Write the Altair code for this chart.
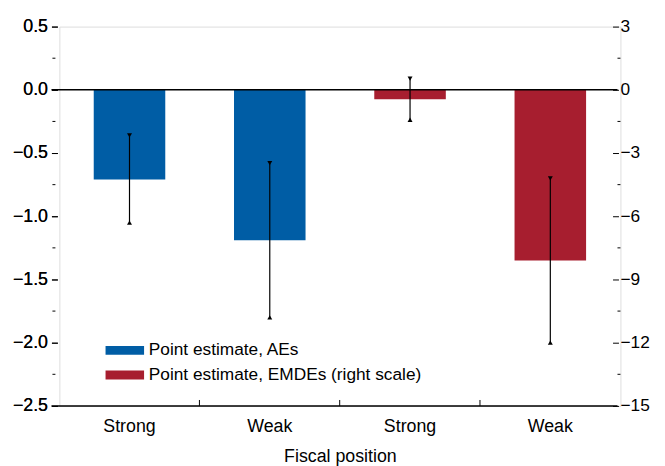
import altair as alt
import pandas as pd

# ---- data ----
groups = ["AEs", "AEs", "EMDEs", "EMDEs"]
positions = ["Strong", "Weak", "Strong", "Weak"]
estimates = [-0.71, -1.19, -0.45, -8.1]
lower = [-1.05, -1.80, -1.42, -12.0]
upper = [-0.36, -0.58, 0.53, -4.2]
series_names = ["Point estimate, AEs", "Point estimate, EMDEs (right scale)"]

left_ticks = [0.5, 0.0, -0.5, -1.0, -1.5, -2.0, -2.5]
left_minor = [0.25, -0.25, -0.75, -1.25, -1.75, -2.25]
right_ticks = [3, 0, -3, -6, -9, -12, -15]
right_minor = [1.5, -1.5, -4.5, -7.5, -10.5, -13.5]

FONT = "Liberation Sans"
FS = 18
W, H = 568, 384
BLUE = "#005DA5"
RED = "#A71E2F"

keys = [g + "|" + p for g, p in zip(groups, positions)]
df = pd.DataFrame({
    "key": keys,
    "group": groups,
    "estimate": estimates,
    "lower": lower,
    "upper": upper,
    "series": [series_names[0] if g == "AEs" else series_names[1] for g in groups],
})
df_ae = df[df.group == "AEs"]
df_em = df[df.group == "EMDEs"]

xscale = alt.Scale(domain=keys, paddingInner=0.49, paddingOuter=0.245)
xaxis = alt.Axis(title="Fiscal position", labelExpr="split(datum.label, '|')[1]",
                 ticks=False, tickSize=0, domain=False, grid=False, labelAngle=0, labelFontSize=FS,
                 titleFontSize=FS, labelPadding=12, titlePadding=12, titleFontWeight="normal")
X = alt.X("key:N", scale=xscale, axis=xaxis, sort=keys)

color = alt.Color("series:N", scale=alt.Scale(domain=series_names, range=[BLUE, RED]),
                  legend=alt.Legend(orient="none", legendX=43, legendY=319, title=None,
                                    symbolType="M-1,-0.9L6.8,-0.9L6.8,0.9L-1,0.9Z",
                                    symbolSize=100, symbolOpacity=1, symbolStrokeWidth=0,
                                    labelFontSize=17.5, labelOffset=30, rowPadding=6,
                                    labelLimit=500))

LS = alt.Scale(domain=[-2.5, 0.5], nice=False, zero=False)
LA = alt.Axis(values=left_ticks, format=".1f", orient="left", offset=2, tickSize=6,
              labelPadding=4, domain=False, grid=False, labelFontSize=FS, title=None)
RS = alt.Scale(domain=[-15, 3], nice=False, zero=False)
RA = alt.Axis(values=right_ticks, format="d", orient="right", offset=-8, tickSize=6,
              labelPadding=1.5, domain=False, grid=False, labelFontSize=17.5, title=None)


def group_layers(data, scale, axis, minor, minor_x, minor_x2):
    base = alt.Chart(data)
    bars = base.mark_bar().encode(x=X, y=alt.Y("estimate:Q", scale=scale, axis=axis), color=color)
    err = base.mark_rule(color="black", strokeWidth=1.2).encode(
        x=X, y=alt.Y("lower:Q", scale=scale, axis=axis), y2="upper:Q")
    top = base.mark_point(shape="triangle-down", filled=True, size=25, color="black", opacity=1).encode(
        x=X, y=alt.Y("upper:Q", scale=scale, axis=axis))
    bot = base.mark_point(shape="triangle-up", filled=True, size=25, color="black", opacity=1).encode(
        x=X, y=alt.Y("lower:Q", scale=scale, axis=axis))
    mnr = alt.Chart(pd.DataFrame({"estimate": minor})).mark_rule(color="black", strokeWidth=1).encode(
        y=alt.Y("estimate:Q", scale=scale, axis=axis), x=alt.value(minor_x), x2=alt.value(minor_x2))
    return [bars, err, top, bot, mnr]


left_layers = group_layers(df_ae, LS, LA, left_minor, -7, -4)
zero = alt.Chart(pd.DataFrame({"estimate": [left_ticks[1]]})).mark_rule(color="black", strokeWidth=1.5).encode(
    y=alt.Y("estimate:Q", scale=LS, axis=LA), x=alt.value(-8), x2=alt.value(W - 3))
bottom = alt.Chart(pd.DataFrame({"estimate": [left_ticks[-1]]})).mark_rule(color="black", strokeWidth=1.5).encode(
    y=alt.Y("estimate:Q", scale=LS, axis=LA), x=alt.value(-8), x2=alt.value(W - 3))
# category separators, half the inner padding before each band
sep = alt.Chart(pd.DataFrame({"key": keys[1:]})).mark_rule(color="black", strokeWidth=1, xOffset=-35).encode(
    x=alt.X("key:N", scale=xscale, axis=xaxis, sort=keys, bandPosition=0),
    y=alt.value(H - 6), y2=alt.value(H))

left = alt.layer(*left_layers, bottom, sep)
right_layers = group_layers(df_em, RS, RA, right_minor, W - 3, W)
right = alt.layer(*right_layers)

chart = alt.layer(left, right, zero).resolve_scale(y="independent").properties(
    width=W, height=H,
    padding={"left": 52, "top": 16, "right": 37, "bottom": 58},
    autosize=alt.AutoSizeParams(type="none"),
).configure_view(stroke="transparent", strokeWidth=0).configure(font=FONT).configure_axis(
    labelFont=FONT, titleFont=FONT, labelColor="black", titleColor="black", tickColor="black",
    domain=False, grid=False
).configure_legend(labelFont=FONT, labelColor="black")

chart.save("out.html", embed_options={"renderer": "svg", "actions": False})
